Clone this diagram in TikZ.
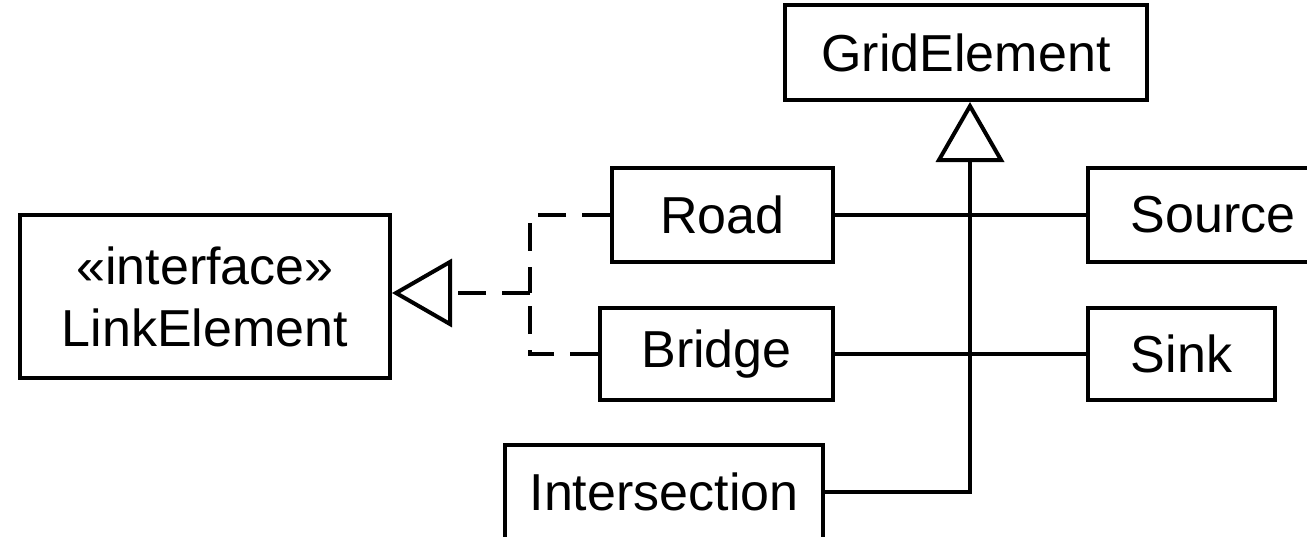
\documentclass[tikz,border=0pt]{standalone}
\usepackage{fontspec}
\setmainfont{Liberation Sans}
\usetikzlibrary{arrows.meta}
\begin{document}
\begin{tikzpicture}[x=1pt,y=-1pt,
  every node/.style={font=\fontsize{52}{62}\selectfont},
  umlbox/.style={draw, line width=4pt, rectangle, inner sep=0pt, anchor=center},
  conn/.style={line width=4pt},
  realize/.style={conn, dash pattern=on 28pt off 16pt},
  gentip/.style={-{Triangle[open, length=60pt, width=68pt, line width=4pt]}},
]
\useasboundingbox (0,0) rectangle (1307,536);
\clip (0,0) rectangle (1307,536);

% classes
\node[umlbox, minimum width=370pt, minimum height=163pt, align=center] (link) at (205,296.5) {«interface»\\LinkElement};
\node[umlbox, minimum width=362pt, minimum height=95pt] (grid) at (966,52.5) {GridElement};
\node[umlbox, minimum width=221pt, minimum height=94pt] (road) at (722.5,215) {Road};
\node[umlbox, minimum width=233pt, minimum height=92pt] (bridge) at (716.5,354) {Bridge};
\node[umlbox, minimum width=250pt, minimum height=94pt] (source) at (1213,215) {Source};
\node[umlbox, minimum width=187pt, minimum height=92pt] (sink) at (1181.5,354) {Sink};
\node[umlbox, minimum width=318pt, minimum height=120pt] (inter) at (664,505) {\raisebox{-5pt}[0pt][0pt]{Intersection}};

% realization of LinkElement
\coordinate (j) at (530,293);
\draw[realize] (road.west) -| (j);
\draw[realize] (bridge.west) -| (j);
\draw[realize, gentip] (j) -- (link.east |- j);

% associations
\draw[conn] (road.east) -- (source.west);
\draw[conn] (bridge.east) -- (sink.west);

% generalization to GridElement
\coordinate (g) at (970,492);
\draw[conn, gentip] (inter.east |- g) -- (g) -- (grid.south -| g);
\end{tikzpicture}
\end{document}
